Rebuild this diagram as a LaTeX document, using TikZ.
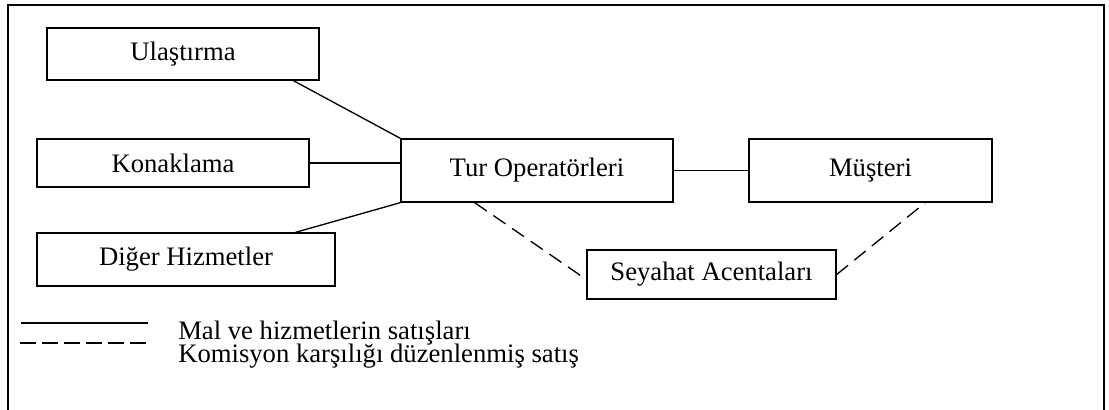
\documentclass[tikz,border=0pt]{standalone}
\usepackage{fontspec}
\setmainfont{Liberation Serif}
\usetikzlibrary{calc}
\begin{document}
\begin{tikzpicture}[x=0.75pt,y=-0.75pt,
  box/.style={draw,line width=1pt,inner sep=0pt,align=center,font=\fontsize{20}{24}\selectfont},
  link/.style={line width=1pt},
  dlink/.style={line width=1pt,dash pattern=on 11pt off 6pt},
  lab/.style={anchor=base west,inner sep=0pt,font=\fontsize{20}{24}\selectfont}]
\useasboundingbox (0,0) rectangle (1109,410);
\draw[line width=2pt] (8,412) -- (8,5) -- (1104,5) -- (1104,412);
\node[box,minimum width=204pt,minimum height=39pt] (u) at (183,54) {Ulaştırma};
\node[box,minimum width=204pt,minimum height=36pt] (k) at (173,163) {Konaklama};
\node[box,minimum width=204pt,minimum height=47.25pt] (t) at (537,170.5) {Tur Operatörleri};
\node[box,minimum width=182.25pt,minimum height=47.25pt] (m) at (870.5,170.5) {Müşteri};
\node[box,minimum width=223.5pt,minimum height=39.75pt] (d) at (186,259.5) {Diğer Hizmetler};
\node[box,minimum width=186.75pt,minimum height=36.75pt] (s) at (711.5,274.5) {Seyahat Acentaları};
\draw[link] ($(u.south west)!0.904!(u.south east)$) -- (t.north west);
\draw[link] (k.east) -- (k.east -| t.west);
\draw[link] ($(d.north west)!0.866!(d.north east)$) -- (t.south west);
\draw[link] (t.east) -- (m.west);
\draw[dlink] ($(t.south west)!0.272!(t.south east)$) -- ($(s.north west)!0.6!(s.south west)$);
\draw[dlink] ($(s.north east)!0.5!(s.south east)$) -- ($(m.south west)!0.724!(m.south east)$);
\coordinate (l1a) at (21,323);
\coordinate (l1b) at (148,323);
\coordinate (l2a) at (20,343);
\coordinate (l2b) at (148,343);
\draw[link] (l1a) -- (l1b);
\draw[dlink,dash pattern=on 12pt off 4.5pt] (l2a) -- (l2b);
\node[lab] (t1) at (178,339) {Mal ve hizmetlerin satışları};
\node[lab] (t2) at (178,362) {Komisyon karşılığı düzenlenmiş satış};
\end{tikzpicture}
\end{document}
